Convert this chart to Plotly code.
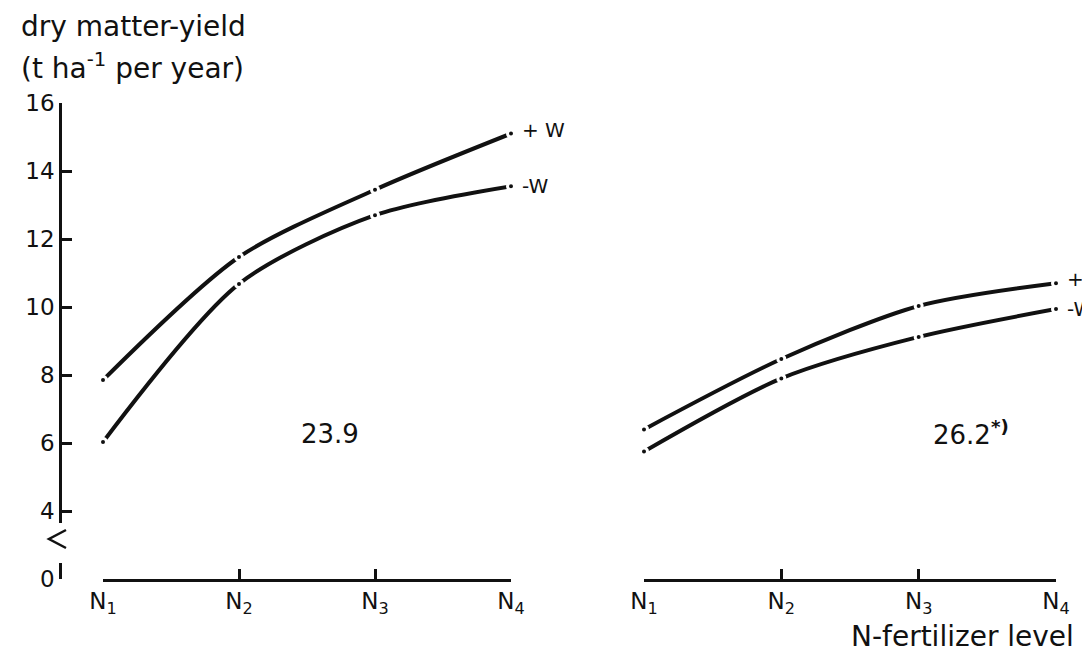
import plotly.graph_objects as go

W, H = 1090, 655
def px(x): return x / W
def py(y): return 1 - y / H

levels = [1, 2, 3, 4]
level_labels = ["N<sub>1</sub>", "N<sub>2</sub>", "N<sub>3</sub>", "N<sub>4</sub>"]

left_plus_w = [7.85, 11.47, 13.45, 15.1]
left_minus_w = [6.03, 10.68, 12.7, 13.55]
right_plus_w = [6.4, 8.47, 10.03, 10.7]
right_minus_w = [5.75, 7.9, 9.12, 9.94]

y_tickvals = [2, 4, 6, 8, 10, 12, 14, 16]
y_ticktext = ["0", "4", "6", "8", "10", "12", "14", "16"]

FONT = "DejaVu Sans"
INK = "#111111"

fig = go.Figure()

def add_series(xs, ys, xa):
    fig.add_trace(go.Scatter(
        x=xs, y=ys, xaxis=xa, yaxis="y", mode="lines+markers",
        line=dict(color=INK, width=4, shape="spline", smoothing=0.8),
        marker=dict(color=INK, size=7, line=dict(color="white", width=3)),
        cliponaxis=False, showlegend=False, hoverinfo="skip"))

add_series(levels, left_plus_w, "x")
add_series(levels, left_minus_w, "x")
add_series(levels, right_plus_w, "x2")
add_series(levels, right_minus_w, "x2")

axis_common = dict(showline=True, linecolor=INK, linewidth=2.5, ticks="inside",
                   ticklen=10, tickwidth=2.5, tickcolor=INK, showgrid=False,
                   zeroline=False, tickfont=dict(family=FONT, size=23, color=INK))

fig.update_layout(
    width=W, height=H,
    margin=dict(l=0, r=0, t=0, b=0, pad=0, autoexpand=False),
    paper_bgcolor="white", plot_bgcolor="white",
    xaxis=dict(domain=[px(95), px(503)], range=[1, 4], anchor="y",
               tickvals=levels, ticktext=level_labels, **axis_common),
    xaxis2=dict(domain=[px(636), px(1048)], range=[1, 4], anchor="y",
                tickvals=levels, ticktext=level_labels, **axis_common),
    yaxis=dict(domain=[py(571), py(95)], range=[2, 16], anchor="free",
               position=px(52), tickvals=y_tickvals, ticktext=y_ticktext,
               **axis_common),
)

# axis break on the y axis
fig.add_shape(type="rect", xref="paper", yref="paper",
              x0=px(44), x1=px(66), y0=py(555), y1=py(515),
              fillcolor="white", line=dict(width=0), layer="above")
fig.add_shape(type="path", xref="paper", yref="paper",
              path=f"M {px(58)},{py(522)} L {px(41)},{py(531)} L {px(58)},{py(540)}",
              line=dict(color=INK, width=2.5), layer="above")

ann = []
ann.append(dict(text="dry matter-yield", x=px(11), y=py(19), xref="paper", yref="paper",
                xanchor="left", yanchor="middle", showarrow=False,
                font=dict(family=FONT, size=28, color=INK)))
ann.append(dict(text="(t ha<sup>-1</sup> per year)", x=px(11), y=py(58), xref="paper", yref="paper",
                xanchor="left", yanchor="middle", showarrow=False,
                font=dict(family=FONT, size=28, color=INK)))
ann.append(dict(text="N-fertilizer level", x=px(1068), y=py(628), xref="paper", yref="paper",
                xanchor="right", yanchor="middle", showarrow=False,
                font=dict(family=FONT, size=28, color=INK)))

for xa, plus, minus in [("x", left_plus_w, left_minus_w), ("x2", right_plus_w, right_minus_w)]:
    ann.append(dict(text="+ W", x=levels[-1], y=plus[-1], xref=xa, yref="y",
                    xanchor="left", xshift=9, yshift=4, showarrow=False,
                    font=dict(family=FONT, size=20, color=INK)))
    ann.append(dict(text="-W", x=levels[-1], y=minus[-1], xref=xa, yref="y",
                    xanchor="left", xshift=9, yshift=0, showarrow=False,
                    font=dict(family=FONT, size=20, color=INK)))

ann.append(dict(text="23.9", x=2.67, y=6.26, xref="x", yref="y", showarrow=False,
                font=dict(family=FONT, size=26, color=INK)))
ann.append(dict(text="26.2<sup><b>*)</b></sup>", x=3.38, y=6.3, xref="x2", yref="y", showarrow=False,
                font=dict(family=FONT, size=26, color=INK)))

fig.update_layout(annotations=ann)
fig.write_html("out.html")
